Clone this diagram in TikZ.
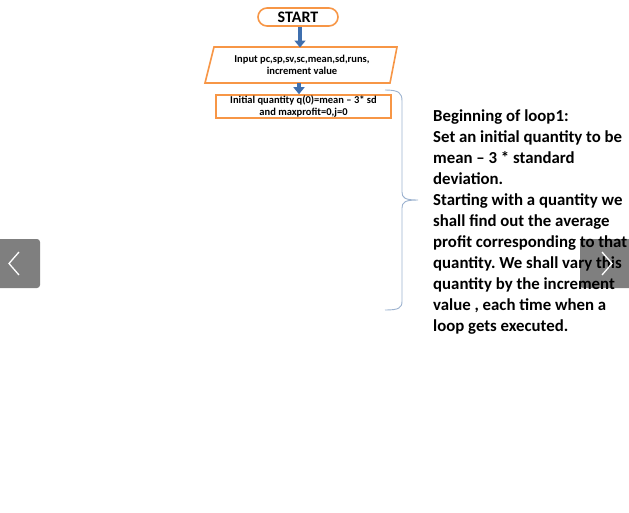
\documentclass[tikz,border=0pt]{standalone}
\usepackage{fontspec}
\setmainfont{Carlito}
\usetikzlibrary{arrows.meta}
\frenchspacing

\definecolor{boxorange}{HTML}{F79646}
\definecolor{flowblue}{HTML}{3F6FAE}
\definecolor{bracecol}{HTML}{9DB3D0}

\tikzset{
  box/.style={draw=boxorange, line width=1.6pt, fill=white},
  flowtext/.style={font=\bfseries\fontsize{10.5}{11.5}\selectfont, align=center, inner sep=0pt},
  flow/.style={draw=flowblue, line width=3.5pt, -{Triangle[length=7pt,width=11pt]}},
  bracepath/.style={draw=bracecol, line width=0.9pt},
  note/.style={font=\bfseries\fontsize{16.8}{21}\selectfont, align=left, inner sep=0pt, anchor=north west},
  navbox/.style={fill=black, fill opacity=0.5, rounded corners=3pt},
  chevron/.style={draw=white, line width=1.3pt}
}

\begin{document}
\begin{tikzpicture}[x=1pt, y=-1pt]
  \useasboundingbox (0,0) rectangle (629,512);

  % start terminal
  \node[box, rounded corners=9pt, minimum width=80pt, minimum height=18pt, inner sep=0pt,
        font=\bfseries\fontsize{16}{17}\selectfont] (start) at (298,17) {START};

  % input parallelogram
  \draw[box] (214,47) -- (397,47) -- (390,83) -- (205,83) -- cycle;
  \node[flowtext] (inp) at (302,65) {Input pc,sp,sv,sc,mean,sd,runs,\\increment value};
  \coordinate (inptop) at (300,47.5);
  \coordinate (inpbot) at (299,83);

  % initialisation box
  \node[box, minimum width=175pt, minimum height=23pt, inner sep=0pt] (init) at (303.5,106.5) {};
  \node[flowtext] (inittext) at (init) {Initial quantity q(0)=mean -- 3* sd\\and maxprofit=0,j=0};

  % connectors
  \draw[flow] (start.south -| inptop) -- (inptop);
  \draw[flow] (inpbot) -- (init.north -| inpbot);

  % curly brace
  \coordinate (btop) at (385,90);
  \coordinate (btip) at (418,200);
  \coordinate (bbot) at (385,310);
  \draw[bracepath] (btop) .. controls (399,90) and (402,93) .. (402,101)
     -- (402,192) .. controls (402,198) and (405,200) .. (btip)
     .. controls (405,200) and (402,202) .. (402,208)
     -- (402,301) .. controls (402,308) and (399,310) .. (bbot);

  % explanation
  \node[note] (expl) at (433,109.2) {Beginning of loop1:\\
Set an initial quantity to be\\
mean -- 3 * standard\\
deviation.\\
Starting with a quantity we\\
shall find out the average\\
profit corresponding to that\\
quantity. We shall vary this\\
quantity by the increment\\
value , each time when a\\
loop gets executed.};

  % navigation buttons
  \fill[navbox] (-6,239) rectangle (40,288);
  \draw[chevron] (19,252) -- (9,263.5) -- (19,275);
  \fill[navbox] (580,239) rectangle (636,288);
  \draw[chevron] (602,252) -- (612,263.5) -- (602,275);
\end{tikzpicture}
\end{document}
